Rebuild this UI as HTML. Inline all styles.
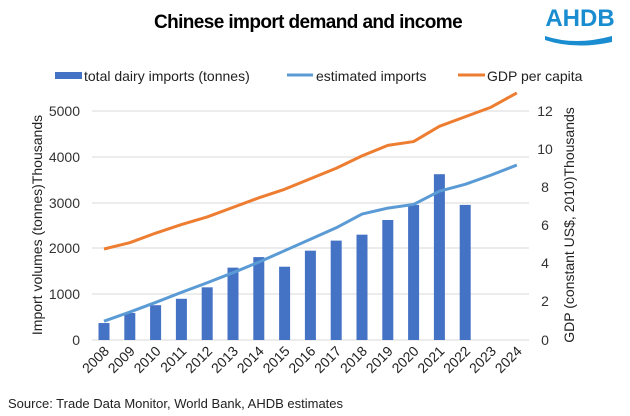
<!DOCTYPE html>
<html><head><meta charset="utf-8"><style>
body{margin:0;background:#fff}
svg{display:block;font-family:"Liberation Sans",Arial,sans-serif}
</style></head><body>
<svg width="630" height="416" viewBox="0 0 630 416" xmlns="http://www.w3.org/2000/svg">
<text x="308" y="28" font-size="19" font-weight="bold" text-anchor="middle" fill="#000" letter-spacing="-0.6">Chinese import demand and income</text>
<text x="580" y="26" font-size="24" font-weight="bold" fill="#1a8dd0" text-anchor="middle">AHDB</text>
<path d="M545 36 Q575 46 612 36 L612 42 Q575 50 545 40 Z" fill="#1a8dd0"/>
<rect x="55" y="72" width="27" height="7" fill="#4472c4"/>
<text x="84" y="81" font-size="14" fill="#222">total dairy imports (tonnes)</text>
<line x1="287" y1="75" x2="313" y2="75" stroke="#5b9bd5" stroke-width="3"/>
<text x="316" y="81" font-size="14" fill="#222">estimated imports</text>
<line x1="458" y1="75" x2="485" y2="75" stroke="#ed7d31" stroke-width="3"/>
<text x="487" y="81" font-size="14" fill="#222">GDP per capita</text>
<g stroke="#d9d9d9" stroke-width="1">
<line x1="92" y1="111" x2="529" y2="111"/><line x1="92" y1="157" x2="529" y2="157"/>
<line x1="92" y1="203" x2="529" y2="203"/><line x1="92" y1="248" x2="529" y2="248"/>
<line x1="92" y1="294" x2="529" y2="294"/><line x1="92" y1="340" x2="529" y2="340"/>
</g>
<g font-size="14" fill="#333" text-anchor="end">
<text x="80" y="116">5000</text><text x="80" y="162">4000</text><text x="80" y="208">3000</text>
<text x="80" y="253">2000</text><text x="80" y="299">1000</text><text x="80" y="345">0</text>
</g>
<g font-size="14" fill="#333" text-anchor="middle">
<text x="545" y="116">12</text><text x="545" y="154">10</text><text x="545" y="192">8</text>
<text x="545" y="230">6</text><text x="545" y="268">4</text><text x="545" y="306">2</text><text x="545" y="345">0</text>
</g>
<text transform="translate(42,225) rotate(-90)" font-size="14" fill="#222" text-anchor="middle">Import volumes (tonnes)Thousands</text>
<text transform="translate(574,225) rotate(-90)" font-size="14" fill="#222" text-anchor="middle">GDP (constant US$, 2010)Thousands</text>
<g fill="#4472c4" id="bars"></g>
<polyline id="est" fill="none" stroke="#5b9bd5" stroke-width="3" stroke-linejoin="round"/>
<polyline id="gdp" fill="none" stroke="#ed7d31" stroke-width="3" stroke-linejoin="round"/>
<g id="xl" font-size="14" fill="#222" text-anchor="end"></g>
<text x="8" y="408" font-size="13" fill="#222">Source: Trade Data Monitor, World Bank, AHDB estimates</text>
<script>
var ns="http://www.w3.org/2000/svg";
var bars=[370,590,760,900,1150,1580,1810,1600,1950,2170,2300,2620,2950,3620,2950];
var est=[410,610,820,1040,1250,1470,1700,1950,2200,2450,2750,2880,2960,3250,3400,3600,3820];
var gdp=[4.77,5.1,5.6,6.05,6.45,6.95,7.45,7.9,8.45,9.0,9.65,10.2,10.4,11.2,11.7,12.2,12.95];
function cx(i){return 104+i*25.8}
var b=document.getElementById("bars");
bars.forEach(function(v,i){var r=document.createElementNS(ns,"rect");var h=v*0.0458;r.setAttribute("x",cx(i)-5.5);r.setAttribute("y",340-h);r.setAttribute("width",11);r.setAttribute("height",h);b.appendChild(r)});
document.getElementById("est").setAttribute("points",est.map(function(v,i){return cx(i)+","+(340-v*0.0458)}).join(" "));
document.getElementById("gdp").setAttribute("points",gdp.map(function(v,i){return cx(i)+","+(340-v*19.08)}).join(" "));
var xl=document.getElementById("xl");
for(var i=0;i<17;i++){var t=document.createElementNS(ns,"text");t.setAttribute("transform","translate("+(cx(i)+6)+",352) rotate(-45)");t.textContent=2008+i;xl.appendChild(t)}
</script>
</svg>
</body></html>
